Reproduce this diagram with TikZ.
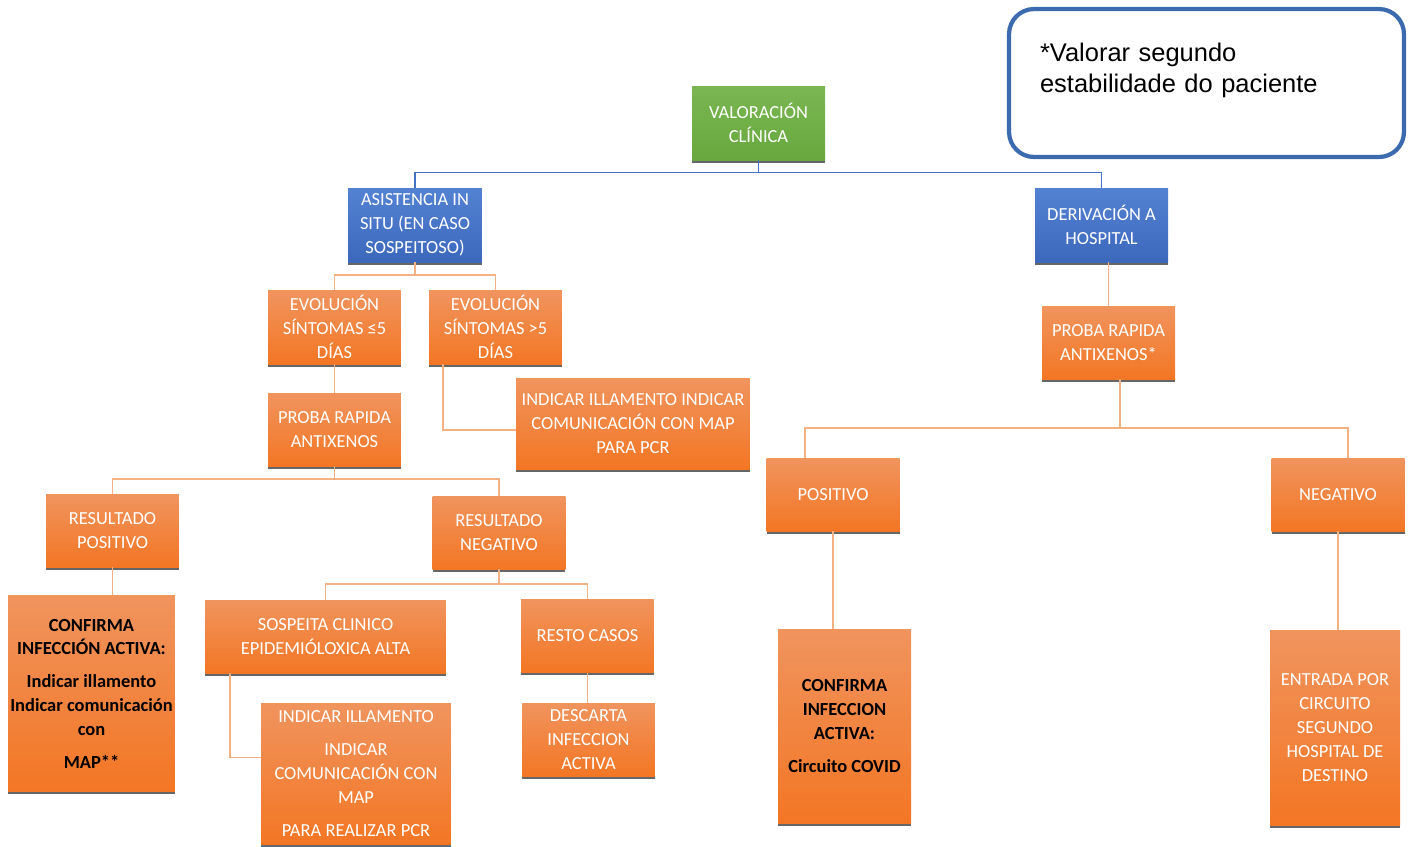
\documentclass[tikz,border=0pt]{standalone}
\usepackage{fontspec}
\setmainfont{Carlito}
\newfontfamily\notefont{Liberation Sans}
\usetikzlibrary{shadows}

\definecolor{ortop}{RGB}{240,148,94}
\definecolor{orbot}{RGB}{243,118,36}
\definecolor{orline}{RGB}{244,177,131}
\definecolor{grtop}{RGB}{122,182,82}
\definecolor{grbot}{RGB}{104,168,62}
\definecolor{bltop}{RGB}{84,130,210}
\definecolor{blbot}{RGB}{60,104,188}
\definecolor{blline}{RGB}{68,114,196}
\definecolor{noteline}{RGB}{60,106,175}

\def \boxw {2.66cm}
\def \boxh {1.46cm}
\def \tallh {1.48cm}

\tikzset{
  card/.style={minimum width=\boxw, minimum height=\boxh, inner sep=1pt, align=center,
    text=white, font=\fontsize{10.5}{13.6}\selectfont,
    drop shadow={shadow xshift=0pt, shadow yshift=-0.05cm, fill=black!75, opacity=0.8}},
  orcard/.style={card, top color=ortop, bottom color=orbot},
  grcard/.style={card, top color=grtop, bottom color=grbot},
  blcard/.style={card, top color=bltop, bottom color=blbot},
  darktext/.style={text=black, font=\fontsize{10.5}{13.6}\selectfont\bfseries},
  oline/.style={draw=orline, line width=1.1pt},
  bline/.style={draw=blline, line width=0.9pt},
}

\begin{document}
\begin{tikzpicture}[x=0.02cm, y=-0.02cm]
\useasboundingbox (0,0) rectangle (1415,846);

\node[grcard, minimum height=\tallh] (val) at (758.5,123) {VALORACIÓN\\CLÍNICA};
\node[blcard, minimum width=2.68cm, minimum height=\tallh] (asis) at (415,225) {ASISTENCIA IN\\SITU (EN CASO\\SOSPEITOSO)};
\node[blcard, minimum height=\tallh] (deriv) at (1101.5,225) {DERIVACIÓN A\\HOSPITAL};
\node[orcard, minimum height=\tallh] (evA) at (334.5,327) {EVOLUCIÓN\\SÍNTOMAS ≤5\\DÍAS};
\node[orcard, minimum height=\tallh] (evB) at (495.5,327) {EVOLUCIÓN\\SÍNTOMAS >5\\DÍAS};
\node[orcard] (prA) at (334.5,429.5) {PROBA RAPIDA\\ANTIXENOS};
\node[orcard, minimum width=4.68cm, minimum height=1.82cm] (ind1) at (633,423.5) {INDICAR ILLAMENTO INDICAR\\COMUNICACIÓN CON MAP\\PARA PCR};
\node[orcard] (resP) at (112.5,530.5) {RESULTADO\\POSITIVO};
\node[orcard] (resN) at (499,532.5) {RESULTADO\\NEGATIVO};
\node[orcard, darktext, minimum width=3.34cm, minimum height=3.94cm] (conf1) at (91.5,693.5) {CONFIRMA\\INFECCIÓN ACTIVA:\\[5pt]Indicar illamento\\Indicar comunicación\\con\\[5pt]MAP**};
\node[orcard, minimum width=4.82cm] (sosp) at (325.5,636.5) {SOSPEITA CLINICO\\EPIDEMIÓLOXICA ALTA};
\node[orcard] (resto) at (587.5,636) {RESTO CASOS};
\node[orcard, minimum width=3.8cm, minimum height=2.82cm] (ind2) at (356,773.5) {INDICAR ILLAMENTO\\[5pt]INDICAR\\COMUNICACIÓN CON\\MAP\\[5pt]PARA REALIZAR PCR};
\node[orcard] (desc) at (588.5,739.5) {DESCARTA\\INFECCION\\ACTIVA};
\node[orcard] (prB) at (1108.5,342.5) {PROBA RAPIDA\\ANTIXENOS*};
\node[orcard] (pos) at (833,494.5) {POSITIVO};
\node[orcard] (neg) at (1338,494.5) {NEGATIVO};
\node[orcard, darktext, minimum height=3.88cm] (conf2) at (844.5,726) {CONFIRMA\\INFECCION\\ACTIVA:\\[5pt]Circuito COVID};
\node[orcard, minimum width=2.6cm, minimum height=3.9cm] (entr) at (1335,727.5) {ENTRADA POR\\CIRCUITO\\SEGUNDO\\HOSPITAL DE\\DESTINO};
\node[draw=noteline, line width=2.4pt, rounded corners=0.5cm, minimum width=7.9cm, minimum height=2.96cm,
  inner sep=0pt, text width=6.66cm, align=left, font=\notefont\fontsize{14.5}{17.6}\selectfont] (note) at (1206.5,83)
  {*Valorar segundo\\estabilidade do paciente\\\mbox{}};

\draw[bline] (val.south) -- ++(0,12) -| (asis.north);
\draw[bline] (val.south) -- ++(0,12) -| (deriv.north);
\draw[oline] (asis.south) -- ++(0,13) -| (evA.north);
\draw[oline] (asis.south) -- ++(0,13) -| (evB.north);
\draw[oline] (evA.south) -- (prA.north);
\draw[oline] ([xshift=0.28cm]evB.south west) |- ([yshift=-0.13cm]ind1.west);
\draw[oline] (prA.south) -- ++(0,13) -| (resP.north);
\draw[oline] (prA.south) -- ++(0,13) -| (resN.north);
\draw[oline] (resP.south) -- (resP.south |- conf1.north);
\draw[oline] (resN.south) -- ++(0,15) -| (sosp.north);
\draw[oline] (resN.south) -- ++(0,15) -| (resto.north);
\draw[oline] ([xshift=0.5cm]sosp.south west) |- ([yshift=0.32cm]ind2.west);
\draw[oline] (resto.south) -- (resto.south |- desc.north);
\draw[oline] (prB.north |- deriv.south) -- (prB.north);
\draw[oline] ([xshift=0.23cm]prB.south) -- ++(0,49) -| ([xshift=-0.56cm]pos.north);
\draw[oline] ([xshift=0.23cm]prB.south) -- ++(0,49) -| ([xshift=0.2cm]neg.north);
\draw[oline] (pos.south) -- (pos.south |- conf2.north);
\draw[oline] (neg.south) -- (neg.south |- entr.north);
\end{tikzpicture}
\end{document}
